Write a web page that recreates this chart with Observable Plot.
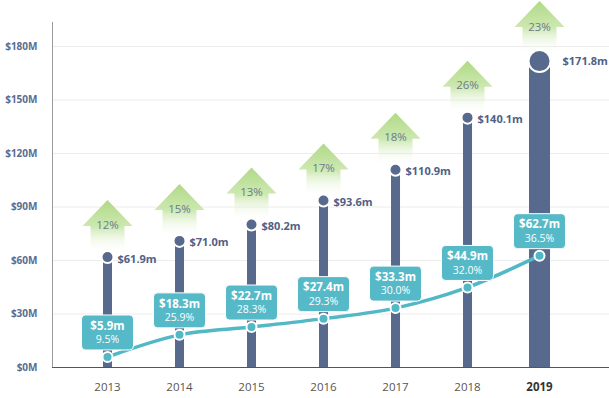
<!DOCTYPE html>
<html>
<head>
<meta charset="utf-8">
<script src="https://cdn.jsdelivr.net/npm/d3@7"></script>
<script src="https://cdn.jsdelivr.net/npm/@observablehq/plot@0.6"></script>
<style>
  html, body { margin: 0; padding: 0; background: #fff; }
  #chart svg [aria-label="y-axis tick label"] text { font-weight: 700; fill: #5b6c8f; }
  #chart svg [aria-label="x-axis tick label"] text { fill: #555; }
  #chart svg g.bold-tick text { font-weight: 700; fill: #333; }
</style>
</head>
<body>
<div id="chart"></div>
<script>
const years   = [2013, 2014, 2015, 2016, 2017, 2018, 2019];
const totals  = [61.9, 71.0, 80.2, 93.6, 110.9, 140.1, 171.8];
const growth  = [12, 15, 13, 17, 18, 26, 23];
const online  = [5.9, 18.3, 22.7, 27.4, 33.3, 44.9, 62.7];
const share   = [9.5, 25.9, 28.3, 29.3, 30.0, 32.0, 36.5];
const yTicks  = [0, 30, 60, 90, 120, 150, 180];

const data = years.map((year, i) => ({year, total: totals[i], growth: growth[i], online: online[i], share: share[i]}));
const last = years[years.length - 1];
const early = data.filter(d => d.year !== last);
const final = data.filter(d => d.year === last);

const xStart = 2012.236, xEnd = 2019.972;

const arrow = {draw(ctx) {
  ctx.moveTo(0, -57); ctx.lineTo(25, -31); ctx.lineTo(17, -31); ctx.lineTo(17, -4);
  ctx.lineTo(-17, -4); ctx.lineTo(-17, -31); ctx.lineTo(-25, -31); ctx.closePath();
}};
const box = {draw(ctx) {
  const x0 = -26, x1 = 26, y0 = -42, y1 = -7, r = 4;
  ctx.moveTo(x0 + r, y0); ctx.lineTo(x1 - r, y0); ctx.arcTo(x1, y0, x1, y0 + r, r);
  ctx.lineTo(x1, y1 - r); ctx.arcTo(x1, y1, x1 - r, y1, r);
  ctx.lineTo(x0 + r, y1); ctx.arcTo(x0, y1, x0, y1 - r, r);
  ctx.lineTo(x0, y0 + r); ctx.arcTo(x0, y0, x0 + r, y0, r); ctx.closePath();
}};

const navy = "#576a8e", teal = "#52b8c6";

const chart = Plot.plot({
  width: 609, height: 398,
  marginLeft: 52, marginRight: 0, marginTop: 46, marginBottom: 31,
  style: {fontFamily: "'Open Sans', sans-serif", background: "#fff"},
  x: {type: "linear", domain: [xStart, xEnd]},
  y: {domain: [0, 180]},
  marks: [
    Plot.gridY(yTicks.slice(1), {stroke: "#ececec", strokeOpacity: 1}),
    Plot.axisY(yTicks, {tickSize: 0, tickPadding: 15, fontSize: 10, tickFormat: d => `$${d}M`, label: null}),
    Plot.axisX(years.slice(0, -1), {tickSize: 0, tickPadding: 15, fontSize: 11.5, tickFormat: d => String(d), label: null}),
    Plot.axisX([last], {tickSize: 0, tickPadding: 15, fontSize: 11.5, fontWeight: "bold", tickFormat: d => String(d), label: null, className: "bold-tick"}),
    Plot.ruleX([xStart], {y1: 0, y2: 193.5, stroke: "#9a9a9a"}),
    Plot.ruleY([0], {stroke: "#555", strokeWidth: 1.2}),
    // growth arrows
    Plot.dot(early, {x: "year", y: "total", symbol: arrow, fill: "url(#arrowGrad)", stroke: "none"}),
    Plot.dot(final, {x: "year", y: "total", symbol: arrow, fill: "url(#arrowGrad)", stroke: "none", dy: -3}),
    Plot.text(early, {x: "year", y: "total", text: d => `${d.growth}%`, dy: -32, fill: "#6b7a8c", fontSize: 11.5}),
    Plot.text(final, {x: "year", y: "total", text: d => `${d.growth}%`, dy: -34, fill: "#6b7a8c", fontSize: 11.5}),
    // total bars
    Plot.ruleX(data, {x: "year", y1: 0, y2: "total", stroke: navy, strokeWidth: d => d.year === last ? 21 : 9}),
    Plot.dot(early, {x: "year", y: "total", r: 6, fill: navy, stroke: "#fff", strokeWidth: 2}),
    Plot.dot(final, {x: "year", y: "total", r: 11, fill: navy, stroke: "#fff", strokeWidth: 2}),
    Plot.text(early, {x: "year", y: "total", text: d => `$${d.total.toFixed(1)}m`, dx: 10, dy: 2, textAnchor: "start", fontWeight: "bold", fill: "#4f6186", fontSize: 11}),
    Plot.text(final, {x: "year", y: "total", text: d => `$${d.total.toFixed(1)}m`, dx: 23, dy: 0, textAnchor: "start", fontWeight: "bold", fill: "#4f6186", fontSize: 11}),
    // online line
    Plot.line(data, {x: "year", y: "online", stroke: teal, strokeWidth: 3.5, curve: "monotone-x"}),
    Plot.dot(data, {x: "year", y: "online", symbol: box, fill: "#56b9c8", stroke: "#fff", strokeWidth: 1}),
    Plot.dot(data, {x: "year", y: "online", r: 5, fill: teal, stroke: "#fff", strokeWidth: 2}),
    Plot.text(data, {x: "year", y: "online", text: d => `$${d.online.toFixed(1)}m`, dy: -31, fill: "#fff", fontWeight: "bold", fontSize: 11.5}),
    Plot.text(data, {x: "year", y: "online", text: d => `${d.share.toFixed(1)}%`, dy: -17, fill: "#fff", fontSize: 10.5})
  ]
});

const defs = d3.select(chart).insert("defs", ":first-child");
const g = defs.append("linearGradient").attr("id", "arrowGrad").attr("x1", 0).attr("y1", 0).attr("x2", 0).attr("y2", 1);
g.append("stop").attr("offset", 0).attr("stop-color", "#afd985").attr("stop-opacity", 1);
g.append("stop").attr("offset", 0.5).attr("stop-color", "#c4e4a3").attr("stop-opacity", 0.85);
g.append("stop").attr("offset", 1).attr("stop-color", "#ffffff").attr("stop-opacity", 0);

document.getElementById("chart").appendChild(chart);
</script>
</body>
</html>
